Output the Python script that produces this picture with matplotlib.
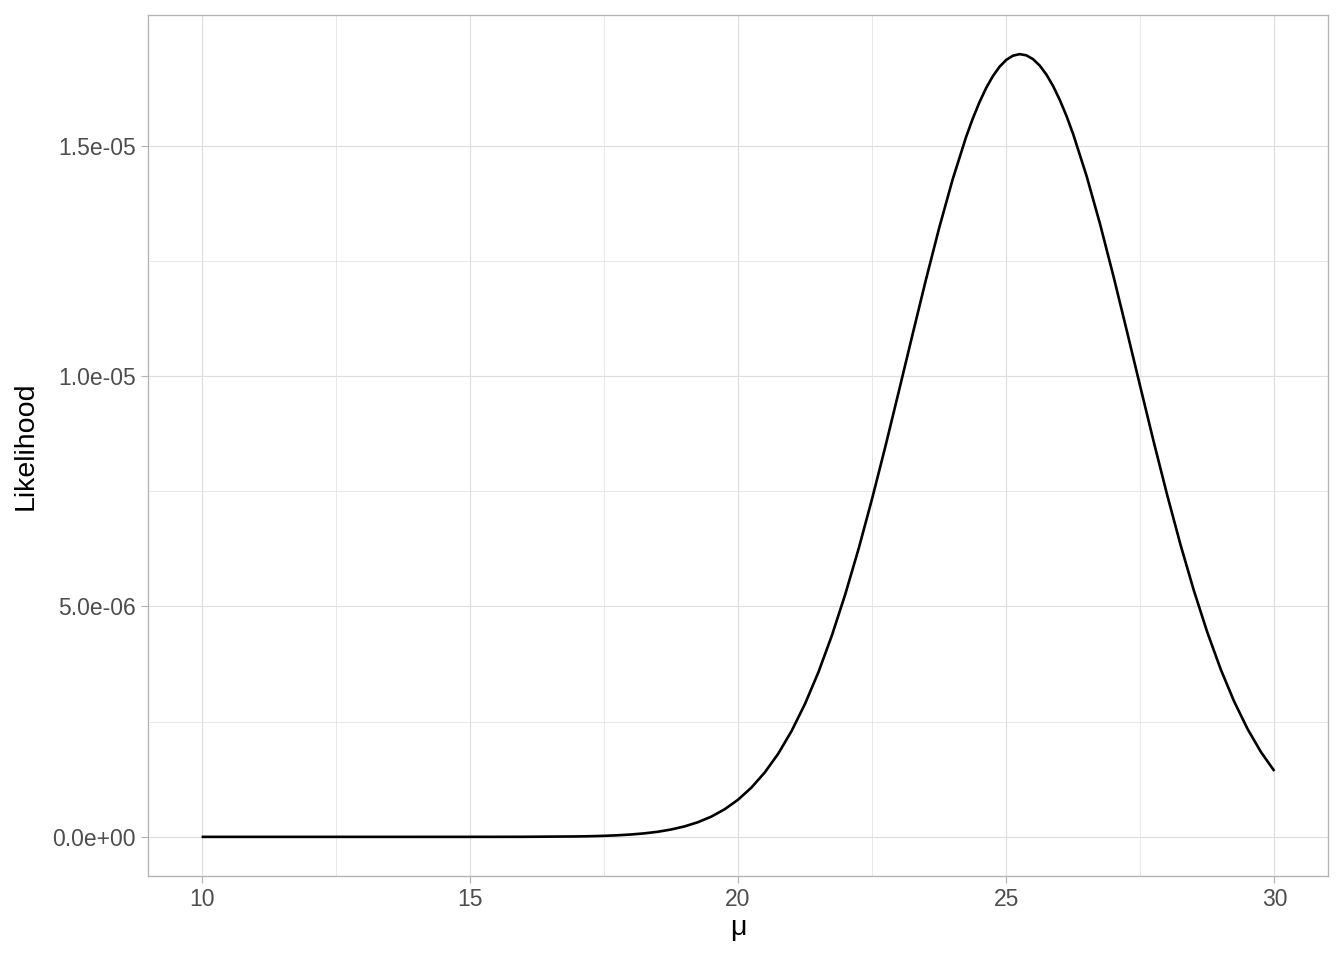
import matplotlib
matplotlib.use("Agg")
import matplotlib.pyplot as plt
from matplotlib.ticker import FixedLocator, FixedFormatter

# mu grid and likelihood values (units of 1e-6)
mu_tail = [10, 11, 12, 13, 14, 15, 16]
lik_tail = [0.0, 0.0, 0.0, 0.0, 0.00001, 0.00015, 0.0013]

mu_main = [17.0, 17.25, 17.5, 17.75, 18.0, 18.25, 18.5, 18.75,
           19.0, 19.25, 19.5, 19.75, 20.0, 20.25, 20.5, 20.75,
           21.0, 21.25, 21.5, 21.75, 22.0, 22.25, 22.5, 22.75,
           23.0, 23.25, 23.5, 23.75, 24.0, 24.25, 24.375, 24.5, 24.625,
           24.75, 24.875, 25.0, 25.125, 25.25, 25.375, 25.5, 25.625,
           25.75, 25.875, 26.0, 26.125, 26.25, 26.5, 26.75,
           27.0, 27.25, 27.5, 27.75, 28.0, 28.25, 28.5, 28.75,
           29.0, 29.25, 29.5, 29.75, 30.0]
lik_main = [0.0092, 0.0144, 0.0223, 0.034, 0.051, 0.0755, 0.110, 0.159,
            0.226, 0.317, 0.438, 0.598, 0.805, 1.069, 1.399, 1.805,
            2.299, 2.888, 3.575, 4.369, 5.265, 6.257, 7.336, 8.482,
            9.675, 10.881, 12.073, 13.211, 14.259, 15.180, 15.580, 15.937, 16.247,
            16.504, 16.710, 16.859, 16.951, 16.985, 16.960, 16.877, 16.738,
            16.542, 16.292, 15.990, 15.641, 15.246, 14.337, 13.299,
            12.166, 10.977, 9.770, 8.576, 7.426, 6.340, 5.342, 4.438,
            3.635, 2.938, 2.342, 1.841, 1.428]

x_major = [10, 15, 20, 25, 30]
x_minor = [12.5, 17.5, 22.5, 27.5]
y_major = [0.0, 5e-6, 1e-5, 1.5e-5]
y_major_labels = ["0.0e+00", "5.0e-06", "1.0e-05", "1.5e-05"]
y_minor = [2.5e-6, 7.5e-6, 1.25e-5]

plt.rcParams['font.family'] = ['Liberation Sans', 'DejaVu Sans']

mu = mu_tail + mu_main
lik = [v * 1e-6 for v in lik_tail + lik_main]

fig = plt.figure(figsize=(13.44, 9.6), dpi=100)
ax = fig.add_axes([148 / 1344, 84 / 960, (1328 - 148) / 1344, (876 - 15) / 960])

grid_col = "#DEDEDE"
for xm in x_minor:
    ax.axvline(xm, color=grid_col, lw=0.5, zorder=0)
for ym in y_minor:
    ax.axhline(ym, color=grid_col, lw=0.5, zorder=0)
for xm in x_major:
    ax.axvline(xm, color=grid_col, lw=0.85, zorder=0)
for ym in y_major:
    ax.axhline(ym, color=grid_col, lw=0.85, zorder=0)

ax.plot(mu, lik, color="black", lw=1.9, solid_capstyle="butt",
        solid_joinstyle="round", zorder=3)

ymax = max(lik)
ax.set_xlim(9, 31)
ax.set_ylim(-0.05 * ymax, 1.05 * ymax)

ax.xaxis.set_major_locator(FixedLocator(x_major))
ax.set_xticklabels([str(v) for v in x_major])
ax.yaxis.set_major_locator(FixedLocator(y_major))
ax.yaxis.set_major_formatter(FixedFormatter(y_major_labels))

ax.tick_params(axis="both", which="major", length=4.8, width=0.8,
               color="#B3B3B3", labelcolor="#4D4D4D", labelsize=16.5, pad=4)

for s in ax.spines.values():
    s.set_color("#B3B3B3")
    s.set_linewidth(0.95)

ax.set_xlabel("\u03bc", fontsize=20.5, color="black", labelpad=3)
ax.set_ylabel("Likelihood", fontsize=20.5, color="black", labelpad=10)

fig.savefig("out.png", dpi=100, facecolor="white")
